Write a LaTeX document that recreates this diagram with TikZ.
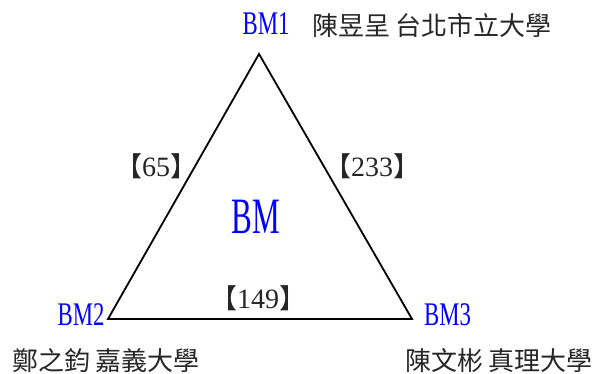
\documentclass[tikz,border=0pt]{standalone}
\usepackage{fontspec}
\usepackage{graphicx}
\setmainfont{Liberation Serif}
\newfontfamily\cjk{Noto Sans CJK TC}
\newfontfamily\brk{Noto Sans CJK SC}
\newcommand\sqz[2]{\scalebox{#1}[1]{#2}}
\begin{document}
\begin{tikzpicture}[x=1pt,y=-1pt,
  bmlabel/.style={inner sep=0pt,text=blue,font=\fontsize{33}{36}\selectfont},
  person/.style={inner sep=0pt,text=black!85,font=\cjk\fontsize{26}{30}\selectfont},
  weight/.style={inner sep=0pt,text=black!85,font=\fontsize{28}{30}\selectfont},
  edge/.style={line width=1.8pt,line join=miter}]
\useasboundingbox (0,0) rectangle (599,374);
\coordinate (v1) at (259,54);
\coordinate (v2) at (108,319);
\coordinate (v3) at (412,319);
\draw[edge] (v1) -- (v2) -- (v3) -- cycle;
\node[bmlabel] (bm1) at (266,24) {\sqz{0.69}{BM1}};
\node[bmlabel] (bm2) at (81,315) {\sqz{0.69}{BM2}};
\node[bmlabel] (bm3) at (447.5,315) {\sqz{0.69}{BM3}};
\node[bmlabel,font=\fontsize{51}{54}\selectfont] (bm) at (256,217) {\sqz{0.61}{BM}};
\node[person] (p1) at (432,26) {陳昱呈 台北市立大學};
\node[person] (p2) at (106,361) {鄭之鈞 嘉義大學};
\node[person] (p3) at (499,361) {陳文彬 真理大學};
\node[weight] (w12) at (156,166) {{\brk\fontsize{27}{30}\selectfont 【}65{\brk\fontsize{27}{30}\selectfont 】}};
\node[weight] (w13) at (372,166) {{\brk\fontsize{27}{30}\selectfont 【}233{\brk\fontsize{27}{30}\selectfont 】}};
\node[weight] (w23) at (258,298) {{\brk\fontsize{27}{30}\selectfont 【}149{\brk\fontsize{27}{30}\selectfont 】}};
\end{tikzpicture}
\end{document}
